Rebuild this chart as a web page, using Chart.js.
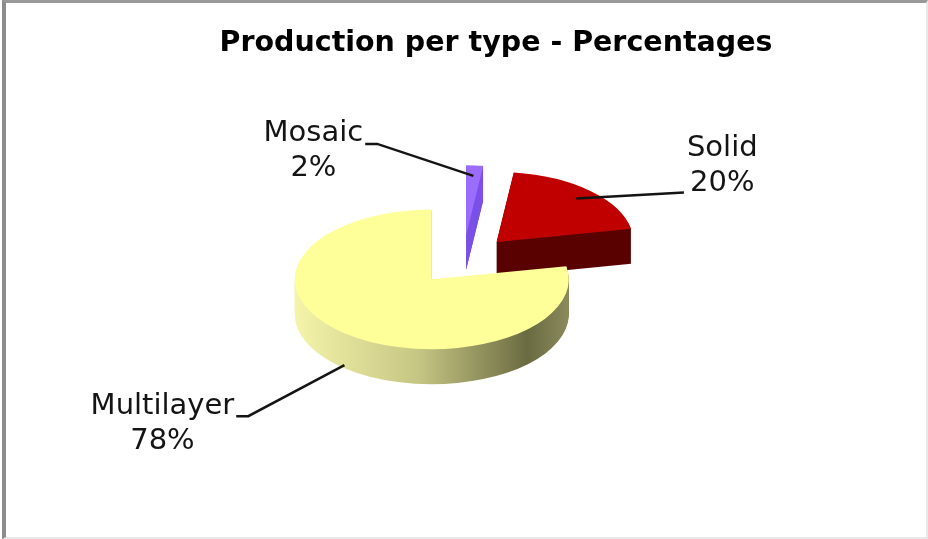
<!DOCTYPE html>
<html>
<head>
<meta charset="utf-8">
<script src="https://cdn.jsdelivr.net/npm/chart.js@4.4.0/dist/chart.umd.min.js"></script>
<style>
    html, body { margin: 0; padding: 0; background: #fff; }
    #wrap { position: relative; width: 928px; height: 539px; }
    #wrap canvas { position: absolute; left: 0; top: 0; }
    #frame { position: absolute; left: 2px; top: 0; width: 926px; height: 539px; box-sizing: border-box;
        border-left: 4px solid #8c8c8c; border-top: 3px solid #9a9a9a;
        border-right: 2px solid #e8e8e8; border-bottom: 2px solid #e8e8e8; pointer-events: none; }
</style>
</head>
<body>
<div id="wrap">
    <canvas id="type_graph" width="928" height="539"></canvas>
    <div id="frame"></div>
</div>
<script>
// data
let types = ['Mosaic', 'Solid', 'Multilayer'];
let shares = [2, 20, 78];
let shareLabels = ['2%', '20%', '78%'];

// colours: top face and side of each slice
let topColors = ['#9b6dff', '#c00000', '#ffff99'];
let sideColors = ['#7b52e6', '#5a0000', null]; // multilayer side gets a gradient

// 3d look
const tilt = 0.51;     // vertical squash of the pie plane
const depth = 35;      // thickness in px
const explode = 49;    // slice explosion in px
const shiftX = -33;    // pie sits left of the title centre

// label placement relative to the anchor on each slice
const labelLayout = [
    { r: 0.85, lift: 0,  dx: -160, dy: -42, side: 'left' },
    { r: 0.85, lift: 0,  dx: 146,  dy: -50, side: 'right' },
    { r: 1.0,  lift: 32, dx: -182, dy: 41,  side: 'left' }
];

function pieCenter(chart) {
    let el = chart.getDatasetMeta(0).data[0];
    return { x: el.x, y: el.y, r: el.outerRadius };
}

function sideFill(ctx, el, i) {
    if (sideColors[i]) return sideColors[i];
    let g = ctx.createLinearGradient(el.x - el.outerRadius, 0, el.x + el.outerRadius, 0);
    g.addColorStop(0, '#f4f4aa');
    g.addColorStop(0.45, '#c6c684');
    g.addColorStop(0.85, '#6b6b42');
    g.addColorStop(1, '#8a8a5c');
    return g;
}

function drawSlice(chart, el, k, color) {
    let ctx = chart.ctx;
    let c = pieCenter(chart);
    let mid = (el.startAngle + el.endAngle) / 2;
    ctx.save();
    ctx.translate(c.x + shiftX, c.y);
    ctx.scale(1, tilt);
    ctx.translate(-c.x, -c.y);
    ctx.translate(Math.cos(mid) * explode, Math.sin(mid) * explode + k / tilt);
    let opts = el.options;
    el.options = Object.assign({}, opts, { backgroundColor: color, borderWidth: 0 });
    el.draw(ctx);
    el.options = opts;
    ctx.restore();
}

const pie3d = {
    id: 'pie3d',
    beforeDatasetsDraw(chart) {
        let arcs = chart.getDatasetMeta(0).data;
        for (let k = depth; k > 0; k--) {
            arcs.forEach((el, i) => drawSlice(chart, el, k, sideFill(chart.ctx, el, i)));
        }
        arcs.forEach((el, i) => drawSlice(chart, el, 0, topColors[i]));
        return false;
    },
    afterDraw(chart) {
        let ctx = chart.ctx;
        let c = pieCenter(chart);
        let arcs = chart.getDatasetMeta(0).data;
        ctx.save();
        ctx.font = '29px "DejaVu Sans"';
        ctx.fillStyle = '#141414';
        ctx.strokeStyle = '#141414';
        ctx.lineWidth = 2.5;
        ctx.textAlign = 'center';
        ctx.textBaseline = 'middle';
        arcs.forEach((el, i) => {
            let lay = labelLayout[i];
            let mid = (el.startAngle + el.endAngle) / 2;
            let px = Math.cos(mid) * (explode + lay.r * el.outerRadius);
            let py = Math.sin(mid) * (explode + lay.r * el.outerRadius);
            let ax = c.x + shiftX + px;
            let ay = c.y + py * tilt + lay.lift;
            let tx = ax + lay.dx, ty = ay + lay.dy;
            ctx.fillText(types[i], tx, ty);
            ctx.fillText(shareLabels[i], tx, ty + 35);
            ctx.beginPath();
            ctx.moveTo(ax, ay);
            if (lay.side === 'left') {
                let right = tx + ctx.measureText(types[i]).width / 2;
                ctx.lineTo(right + 14, ty + 10);
                ctx.lineTo(right + 2, ty + 10);
            } else {
                let w = Math.max(ctx.measureText(types[i]).width, ctx.measureText(shareLabels[i]).width);
                ctx.lineTo(tx - w / 2 - 3, ty + 44);
            }
            ctx.stroke();
        });
        ctx.restore();
    }
};

let type_graph = document.getElementById('type_graph').getContext('2d');
window.type_chart = new Chart(type_graph, {
    type: 'pie',
    data: {
        labels: types,
        datasets: [{
            data: shares,
            backgroundColor: topColors,
            borderWidth: 0
        }]
    },
    options: {
        responsive: false,
        animation: false,
        events: [],
        radius: 137,
        layout: { padding: { left: 64, right: 0, top: 0, bottom: 89 } },
        plugins: {
            legend: { display: false },
            tooltip: { enabled: false },
            title: {
                display: true,
                text: 'Production per type - Percentages',
                color: '#000',
                font: { family: 'DejaVu Sans', size: 28.5, weight: 'bold' },
                padding: { top: 26, bottom: 10 }
            }
        }
    },
    plugins: [pie3d]
});
</script>
</body>
</html>
